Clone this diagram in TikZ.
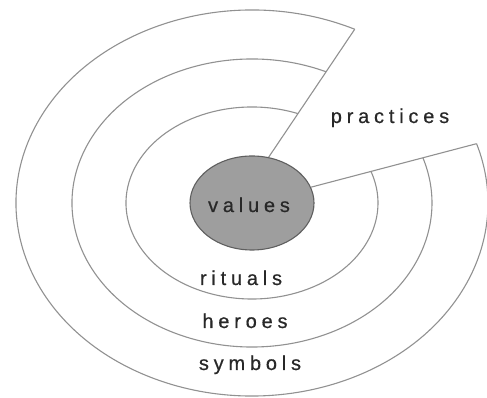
\documentclass[tikz,border=0pt]{standalone}
\usepackage{fontspec}
\setmainfont{Liberation Sans}
\newfontfamily\spacedfont[LetterSpace=24,FakeBold=0.6]{Liberation Sans}
\usetikzlibrary{shapes.geometric,calc}
\definecolor{ringline}{RGB}{145,145,145}
\definecolor{valfill}{RGB}{158,158,158}
\definecolor{valedge}{RGB}{95,95,95}
\definecolor{txt}{RGB}{40,40,40}
\begin{document}
\begin{tikzpicture}[x=1pt,y=1pt,
  ring/.style={draw=ringline, line width=1.1pt},
  lbl/.style={font=\spacedfont\fontsize{20}{22}\selectfont, text=txt, anchor=base, inner sep=0pt}]
\useasboundingbox (0,0) rectangle (487,398);
\coordinate (c) at (252,195);
% outer ends of the two cut lines
\coordinate (o1) at ($(c)+(64.2:236pt and 193pt)$);
\coordinate (o2) at ($(c)+(17.9:236pt and 193pt)$);
% rings
\draw[ring] (o1) arc[start angle=64.2, end angle=377.9, x radius=236pt, y radius=193pt];
\draw[ring] ($(c)+(65.7:180pt and 144pt)$) arc[start angle=65.7, end angle=378.3, x radius=180pt, y radius=144pt];
\draw[ring] ($(c)+(68.7:126pt and 96pt)$) arc[start angle=68.7, end angle=379.4, x radius=126pt, y radius=96pt];
% core
\node[ellipse, draw=valedge, fill=valfill, line width=1.1pt, minimum width=124pt, minimum height=94pt, inner sep=0pt] (values) at (c) {};
% cut lines
\draw[ring] (values.70.8) -- (o1);
\draw[ring] (values.15.6) -- (o2);
% labels
\node[lbl] (tvalues) at (249,186) {values};
\node[lbl] (trituals) at (241,113) {rituals};
\node[lbl] (theroes) at (245,70) {heroes};
\node[lbl] (tsymbols) at (250,28) {symbols};
\node[lbl] (tpractices) at (390,275) {practices};
\end{tikzpicture}
\end{document}
